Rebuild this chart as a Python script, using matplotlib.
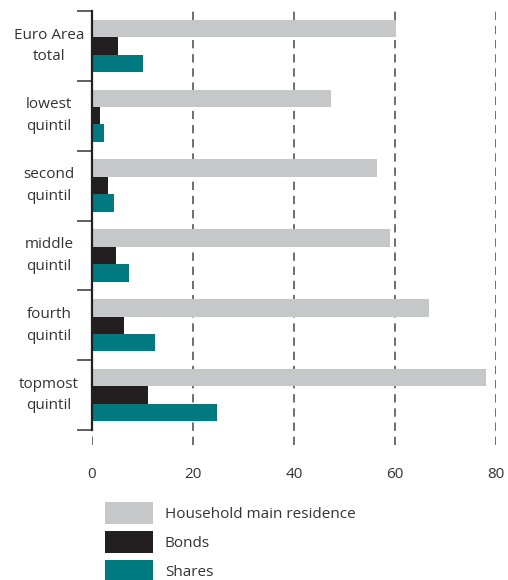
import matplotlib.pyplot as plt
import numpy as np

categories = ['Euro Area\ntotal', 'lowest\nquintil', 'second\nquintil',
              'middle\nquintil', 'fourth\nquintil', 'topmost\nquintil']
residence = [60.2, 47.3, 56.5, 59.0, 66.8, 78.0]
bonds = [5.3, 1.6, 3.2, 4.8, 6.4, 11.1]
shares = [10.1, 2.4, 4.4, 7.4, 12.5, 24.7]
series_labels = ['Household main residence', 'Bonds', 'Shares']
xticks = [0, 20, 40, 60, 80]

plt.rcParams['font.family'] = ['Open Sans', 'DejaVu Sans']

W, H = 508, 580
fig = plt.figure(figsize=(W / 100, H / 100), dpi=100)
left, right, top, bottom = 91.7, 496, 11, 445
ax = fig.add_axes([left / W, 1 - bottom / H, (right - left) / W, (bottom - top) / H])

fs = 11
text_col = '#333333'
colors = ['#c6c7c8', '#231f20', '#007a80']
y = np.arange(len(categories))
h = 0.25
for k, (vals, col, lab) in enumerate(zip([residence, bonds, shares], colors, series_labels)):
    ax.barh(y + 0.25 + k * h, vals, height=h, color=col, label=lab, zorder=2)

n = len(categories)
ax.set_xlim(0, 80)
ax.set_ylim(n + 15 / 70, 0)

for xv in xticks:
    ax.axvline(xv, color='#555555', lw=1.2, dashes=(5, 3.5), zorder=1)

for s in ['top', 'right', 'bottom']:
    ax.spines[s].set_visible(False)
ax.spines['left'].set_bounds(0, n)
ax.spines['left'].set_color('#231f20')
ax.spines['left'].set_linewidth(1.6)
ax.spines['left'].set_zorder(3)

ax.set_yticks(np.arange(n + 1))
ax.set_yticklabels([])
ax.tick_params(axis='y', length=11, width=1.2, color='#444444', direction='out')

ax.set_xticks(xticks)
ax.set_xticklabels([str(v) for v in xticks])
ax.tick_params(axis='x', length=0, pad=16, labelsize=fs, labelcolor=text_col)

trans = ax.get_yaxis_transform()
for i, cat in enumerate(categories):
    ax.text((49 - left) / (right - left), i + 0.5, cat, transform=trans,
            ha='center', va='center', multialignment='center',
            fontsize=fs, color=text_col, linespacing=1.6)

# legend box sized in pixels: handles 48x22 px, 7 px between rows
handles, labels = ax.get_legend_handles_labels()
fs_px = fs * 100 / 72
hh = (22 / fs_px - 0.245) / 0.65
fig.legend(handles, labels, loc='upper left',
           bbox_to_anchor=(105 / W, 1 - 502 / H), frameon=False,
           fontsize=fs, labelcolor=text_col, borderpad=0, borderaxespad=0,
           handlelength=48 / fs_px, handleheight=hh,
           labelspacing=7 / fs_px, handletextpad=12 / fs_px)

fig.savefig('out.png', dpi=100)
